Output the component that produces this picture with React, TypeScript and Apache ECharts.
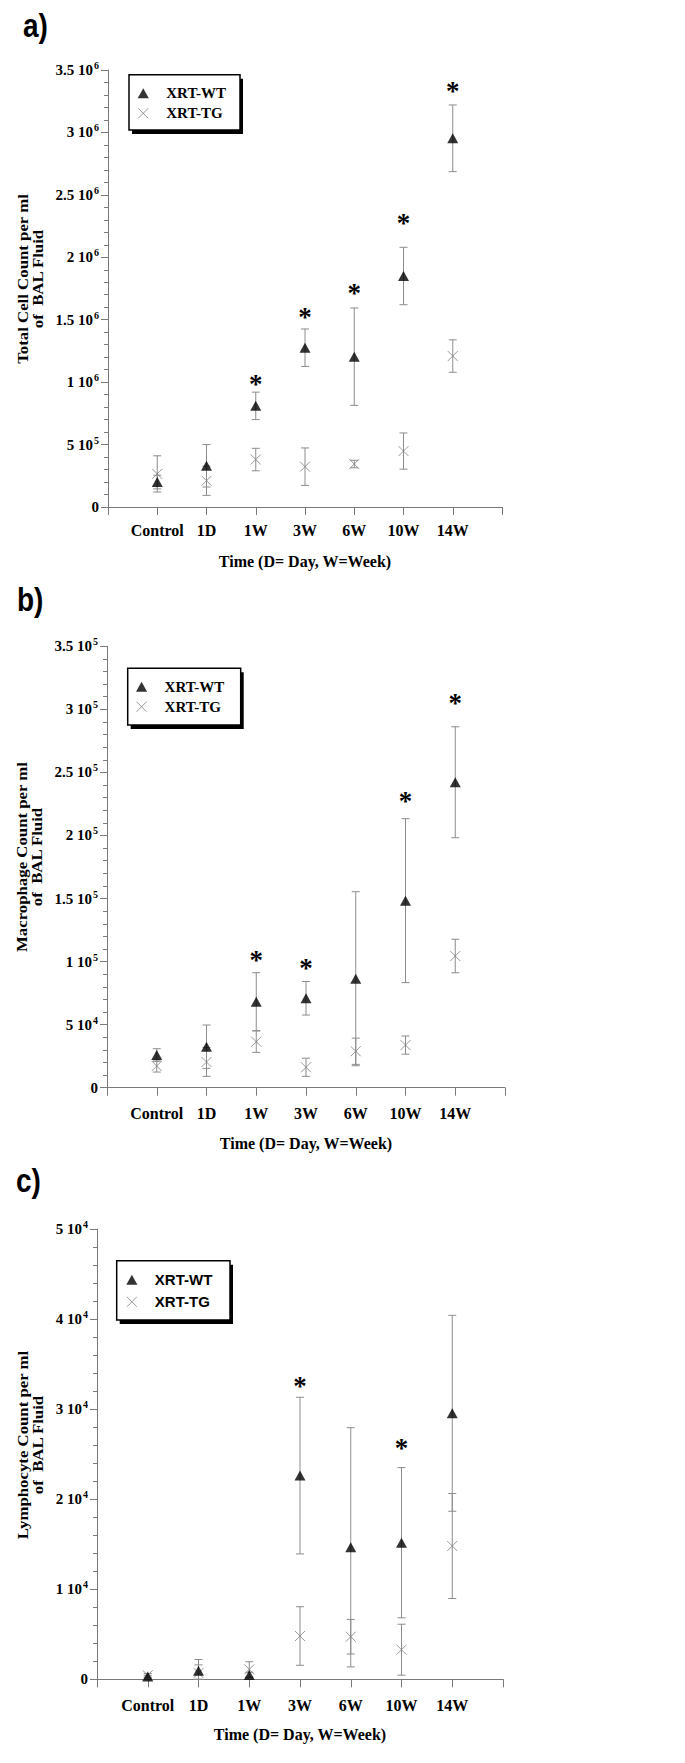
import React, { useEffect, useRef } from 'react';
import * as echarts from 'echarts';

// ---------- data ----------
const categories = ['Control', '1D', '1W', '3W', '6W', '10W', '14W'];

// a) Total cell count
const totalWT = [0.2e6, 0.33e6, 0.81e6, 1.276e6, 1.204e6, 1.85e6, 2.953e6];
const totalWTErr = [0.055e6, 0.17e6, 0.11e6, 0.15e6, 0.39e6, 0.23e6, 0.267e6];
const totalTG = [0.265e6, 0.21e6, 0.38e6, 0.323e6, 0.344e6, 0.448e6, 1.209e6];
const totalTGErr = [0.145e6, 0.117e6, 0.09e6, 0.15e6, 0.03e6, 0.145e6, 0.13e6];
const totalStars = [null, null, 1.02e6, 1.55e6, 1.75e6, 2.31e6, 3.36e6];
const yTicksTotal = ['0', '5 10^5', '1 10^6', '1.5 10^6', '2 10^6', '2.5 10^6', '3 10^6', '3.5 10^6'];

// b) Macrophage count
const macroWT = [2.59e4, 3.25e4, 6.82e4, 7.09e4, 8.64e4, 14.83e4, 24.22e4];
const macroWTErr = [0.5e4, 1.72e4, 2.3e4, 1.33e4, 6.9e4, 6.5e4, 4.4e4];
const macroTG = [1.72e4, 2.04e4, 3.65e4, 1.62e4, 2.89e4, 3.38e4, 10.44e4];
const macroTGErr = [0.48e4, 1.14e4, 0.85e4, 0.72e4, 1.04e4, 0.72e4, 1.33e4];
const macroStars = [null, null, 10.44e4, 9.78e4, null, 23.07e4, 30.8e4];
const yTicksMacro = ['0', '5 10^4', '1 10^5', '1.5 10^5', '2 10^5', '2.5 10^5', '3 10^5', '3.5 10^5'];

// c) Lymphocyte count
const lymphWT = [300, 950, 480, 22618, 14657, 15168, 29537];
const lymphWTErr = [150, 1250, 300, 8700, 13280, 8340, 10880];
const lymphTG = [450, 700, 1100, 4808, 4730, 3287, 14802];
const lymphTGErr = [200, 900, 850, 3250, 1920, 2830, 5830];
const lymphStars = [null, null, null, 32980, null, 26072, null];
const yTicksLymph = ['0', '1 10^4', '2 10^4', '3 10^4', '4 10^4', '5 10^4'];

const seriesNames = ['XRT-WT', 'XRT-TG'];
const xTitle = 'Time (D= Day, W=Week)';

// ---------- styles / layout ----------
const SERIF = 'Liberation Serif, Times New Roman, serif';
const SANS = 'Liberation Sans, Arial, sans-serif';
const AXIS_COLOR = '#7a7a7a';
const ERR_COLOR = '#8c8c8c';
const TG_COLOR = '#7f7f7f';
const TRI = 'path://M5,0L10,9L0,9Z';
const CROSS = 'path://M0,0L10,10M10,0L0,10';

const panels = [
  {
    letter: 'a)', letterPos: [23, 26],
    grid: { left: 108, top: 70, width: 394, height: 437 },
    yMax: 3.5e6, yInterval: 0.5e6, ticks: yTicksTotal,
    wt: totalWT, wtErr: totalWTErr, tg: totalTG, tgErr: totalTGErr, stars: totalStars,
    yName: 'Total Cell Count per ml\nof  BAL Fluid', yNamePos: [30.75, 279],
    box: [129, 74.7, 111, 55.3], legendPos: [137.7, 85.8], legendGap: 5, legendFont: SERIF,
    xLabelMargin: 15, xNameGap: 46.5,
  },
  {
    letter: 'b)', letterPos: [17, 600],
    grid: { left: 107, top: 646.3, width: 398, height: 441.4 },
    yMax: 3.5e5, yInterval: 0.5e5, ticks: yTicksMacro,
    wt: macroWT, wtErr: macroWTErr, tg: macroTG, tgErr: macroTGErr, stars: macroStars,
    yName: 'Macrophage Count per ml\nof  BAL Fluid', yNamePos: [29.5, 857],
    box: [127.7, 668.3, 113, 56.7], legendPos: [136, 679.2], legendGap: 5, legendFont: SERIF,
    xLabelMargin: 17.3, xNameGap: 47.5,
  },
  {
    letter: 'c)', letterPos: [16, 1181],
    grid: { left: 97, top: 1229, width: 406, height: 450.3 },
    yMax: 5e4, yInterval: 1e4, ticks: yTicksLymph,
    wt: lymphWT, wtErr: lymphWTErr, tg: lymphTG, tgErr: lymphTGErr, stars: lymphStars,
    yName: 'Lymphocyte Count per ml\nof  BAL Fluid', yNamePos: [30.5, 1445],
    box: [116.7, 1260.7, 113.3, 59.3], legendPos: [126.3, 1272.3], legendGap: 7, legendFont: SANS,
    xLabelMargin: 17.7, xNameGap: 47.5,
  },
];

function tickRich(s: string) {
  if (!s) return '';
  const parts = s.split('^');
  if (parts.length === 1) return '{m|' + parts[0] + '}';
  return '{m|' + parts[0] + '}{s|' + parts[1] + '}';
}

function buildOption() {
  const grid: any[] = [];
  const xAxis: any[] = [];
  const yAxis: any[] = [];
  const series: any[] = [];
  const legend: any[] = [];
  const elements: any[] = [];

  panels.forEach((p, i) => {
    grid.push({ ...p.grid, containLabel: false });
    xAxis.push({
      gridIndex: i, type: 'value', min: 0, max: 8, interval: 1,
      axisLine: { show: true, onZero: false, lineStyle: { color: AXIS_COLOR, width: 1 } },
      axisTick: { show: true, length: 8, lineStyle: { color: AXIS_COLOR } },
      splitLine: { show: false },
      axisLabel: {
        margin: p.xLabelMargin, showMinLabel: true, showMaxLabel: true,
        formatter: (v: number) => categories[Math.round(v) - 1] ?? '',
        fontFamily: SERIF, fontWeight: 'bold', fontSize: 16, color: '#000',
      },
      name: xTitle, nameLocation: 'middle', nameGap: p.xNameGap,
      nameTextStyle: { fontFamily: SERIF, fontWeight: 'bold', fontSize: 16, color: '#000' },
    });
    yAxis.push({
      gridIndex: i, type: 'value', min: 0, max: p.yMax, interval: p.yInterval,
      axisLine: { show: true, lineStyle: { color: AXIS_COLOR, width: 1 } },
      axisTick: { show: true, length: 7, lineStyle: { color: AXIS_COLOR } },
      minorTick: { show: true, splitNumber: 5, length: 4, lineStyle: { color: AXIS_COLOR } },
      splitLine: { show: false }, minorSplitLine: { show: false },
      axisLabel: {
        margin: 9,
        formatter: (v: number) => tickRich(p.ticks[Math.round(v / p.yInterval)]),
        rich: {
          m: { fontFamily: SERIF, fontWeight: 'bold', fontSize: 15, color: '#000', lineHeight: 19 },
          s: { fontFamily: SERIF, fontWeight: 'bold', fontSize: 10, color: '#000', lineHeight: 10, verticalAlign: 'top', padding: [0, 0, 0, 1] },
        },
      },
    });

    const errData: number[][] = [];
    p.wt.forEach((v, j) => errData.push([j + 1, Math.max(0, v - p.wtErr[j]), v + p.wtErr[j]]));
    p.tg.forEach((v, j) => errData.push([j + 1, Math.max(0, v - p.tgErr[j]), v + p.tgErr[j]]));

    series.push({
      type: 'custom', xAxisIndex: i, yAxisIndex: i, silent: true, z: 1,
      data: errData, encode: { x: 0, y: [1, 2] },
      renderItem: (params: any, api: any) => {
        const x = api.value(0);
        const top = api.coord([x, api.value(2)]);
        const bot = api.coord([x, api.value(1)]);
        const c = 4;
        const st = { stroke: ERR_COLOR, lineWidth: 1 };
        return {
          type: 'group',
          children: [
            { type: 'line', shape: { x1: top[0], y1: top[1], x2: bot[0], y2: bot[1] }, style: st },
            { type: 'line', shape: { x1: top[0] - c, y1: top[1], x2: top[0] + c, y2: top[1] }, style: st },
            { type: 'line', shape: { x1: bot[0] - c, y1: bot[1], x2: bot[0] + c, y2: bot[1] }, style: st },
          ],
        };
      },
    });
    series.push({
      type: 'scatter', name: seriesNames[1], xAxisIndex: i, yAxisIndex: i, z: 3,
      data: p.tg.map((v, j) => [j + 1, v]),
      symbol: CROSS, symbolSize: 10,
      itemStyle: { color: 'transparent', borderColor: TG_COLOR, borderWidth: 1 },
    });
    series.push({
      type: 'scatter', name: seriesNames[0], xAxisIndex: i, yAxisIndex: i, z: 4,
      data: p.wt.map((v, j) => [j + 1, v]),
      symbol: TRI, symbolSize: [11, 10],
      itemStyle: { color: '#000' },
    });
    const starData: number[][] = [];
    p.stars.forEach((v, j) => { if (v != null) starData.push([j + 1, v]); });
    series.push({
      type: 'custom', xAxisIndex: i, yAxisIndex: i, silent: true, z: 5,
      data: starData,
      renderItem: (params: any, api: any) => {
        const pt = api.coord([api.value(0), api.value(1)]);
        return {
          type: 'text', x: pt[0], y: pt[1] + 4,
          style: { text: '*', fontFamily: SERIF, fontWeight: 'bold', fontSize: 27, fill: '#000', align: 'center', verticalAlign: 'middle' },
        };
      },
    });

    legend.push({
      orient: 'vertical', left: p.legendPos[0], top: p.legendPos[1], padding: 0,
      itemWidth: 36, itemHeight: 10, itemGap: p.legendGap, selectedMode: false, z: 10,
      data: [
        { name: seriesNames[0], icon: TRI, itemStyle: { color: '#000', borderWidth: 0 } },
        { name: seriesNames[1], icon: CROSS, itemStyle: { color: 'transparent', borderColor: TG_COLOR, borderWidth: 1 } },
      ],
      textStyle: { fontFamily: p.legendFont, fontWeight: 'bold', fontSize: 15, color: '#000' },
    });

    const [bx, by, bw, bh] = p.box;
    elements.push({ type: 'rect', z: 1, shape: { x: bx + 3, y: by + 4, width: bw, height: bh }, style: { fill: '#000' } });
    elements.push({ type: 'rect', z: 2, shape: { x: bx, y: by, width: bw, height: bh }, style: { fill: '#fff', stroke: '#000', lineWidth: 1.5 } });
    elements.push({
      type: 'text', z: 2, x: p.letterPos[0], y: p.letterPos[1], scaleY: 1.2,
      style: { text: p.letter, fontFamily: SANS, fontWeight: 'bold', fontSize: 28, fill: '#000', align: 'left', verticalAlign: 'middle' },
    });
    elements.push({
      type: 'text', z: 2, x: p.yNamePos[0], y: p.yNamePos[1], rotation: Math.PI / 2, scaleX: 1.12,
      style: { text: p.yName, fontFamily: SERIF, fontWeight: 'bold', fontSize: 15, lineHeight: 15, fill: '#000', align: 'center', verticalAlign: 'middle' },
    });
  });

  return {
    animation: false,
    backgroundColor: '#fff',
    grid, xAxis, yAxis, series, legend,
    graphic: { elements },
  };
}

export default function App() {
  const ref = useRef<HTMLDivElement>(null);
  useEffect(() => {
    if (!ref.current) return;
    const chart = echarts.init(ref.current, undefined, { renderer: 'svg' });
    chart.setOption(buildOption() as any);
    return () => chart.dispose();
  }, []);
  return <div ref={ref} style={{ position: 'absolute', left: 0, top: 0, width: 685, height: 1763 }} />;
}
